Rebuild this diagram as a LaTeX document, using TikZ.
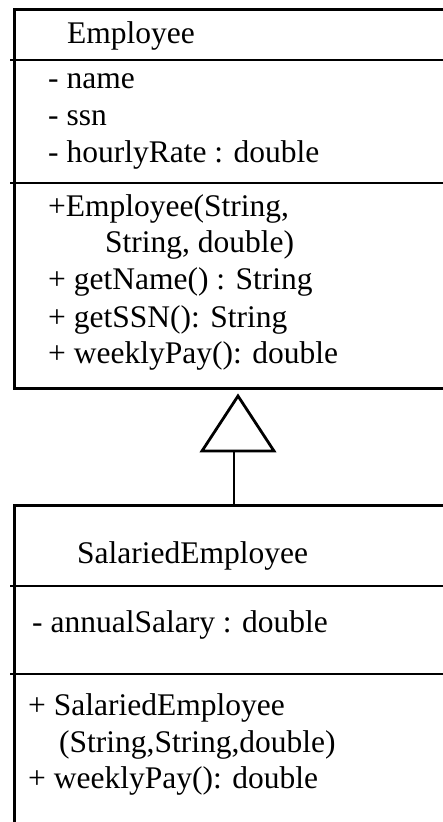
\documentclass[tikz,border=0pt]{standalone}
\usepackage{fontspec}
\setmainfont{Liberation Serif}
\begin{document}
\begin{tikzpicture}[x=1pt,y=-1pt,
  uml/.style={line width=2.8pt, line join=miter},
  txt/.style={anchor=base west, inner sep=0pt, font=\fontsize{31.5}{36}\selectfont},
  boxnode/.style={draw, line width=2.8pt, anchor=north west, inner sep=0pt, minimum width=460pt}]
\useasboundingbox (0,0) rectangle (443,822);
\clip (0,0) rectangle (443,822);
% Employee class
\node[boxnode, minimum height=379pt] (emp) at (13,8) {};
\draw[uml] (10,60) -- (470,60);
\draw[uml] (10,183) -- (470,183);
\node[txt] (empname) at (67,43) {Employee};
\node[txt] (a1) at (48,88) {- name};
\node[txt] (a2) at (48,125) {- ssn};
\node[txt] (a3) at (48,162) {- hourlyRate : double};
\node[txt] (m1) at (48,216) {+Employee(String,};
\node[txt] (m1b) at (105,252) {String, double)};
\node[txt] (m2) at (48,289) {+ getName() : String};
\node[txt] (m3) at (48,327) {+ getSSN(): String};
\node[txt] (m4) at (48,363) {+ weeklyPay(): double};
% SalariedEmployee class
\node[boxnode, minimum height=360pt] (sal) at (13,504) {};
\draw[uml] (10,586) -- (470,586);
\draw[uml] (10,674) -- (470,674);
\node[txt] (salname) at (77,563) {SalariedEmployee};
\node[txt] (s1) at (32,632) {- annualSalary : double};
\node[txt] (sm1) at (28,715) {+ SalariedEmployee};
\node[txt] (sm1b) at (59,752) {(String,String,double)};
\node[txt] (sm2) at (28,788) {+ weeklyPay(): double};
% inheritance arrow
\coordinate (apex) at (238,396);
\coordinate (base) at (234,451);
\coordinate (salTop) at (234,504);
\draw[uml] (apex) -- (274,451) -- (202,451) -- cycle;
\draw[uml] (salTop) -- (base);
\end{tikzpicture}
\end{document}
